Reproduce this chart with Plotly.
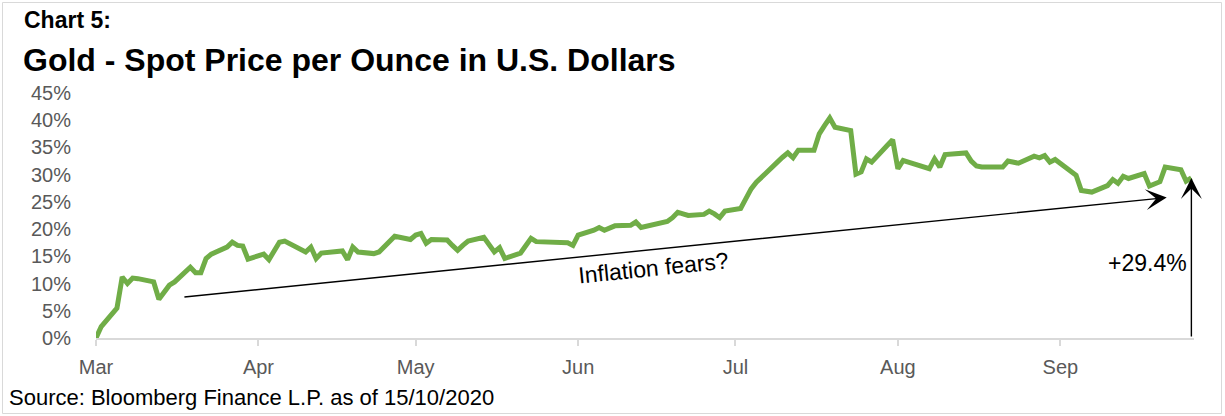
import pandas as pd
import plotly.graph_objects as go

# ---- data: gold spot price change since 19 Mar 2020 (%), business days ----
mar_vals = [0.0, 2.1, 5.5, 11.2, 10.0, 11.0, 10.9, 10.3, 7.1]
apr_vals = [8.4, 9.7, 10.3, 13.0, 12.0, 12.0, 14.6, 15.4, 16.7, 17.6, 17.0,
            16.9, 14.5, 15.4, 14.4, 16.0, 17.6, 17.8, 16.3, 15.8, 16.7, 14.6]
may_vals = [15.6, 15.9, 16.0, 14.4, 16.7, 15.8, 15.5, 15.8, 16.7, 17.8, 18.7,
            18.1, 18.9, 19.2, 17.4, 18.1, 18.0, 17.0, 16.1, 17.0, 17.8]
jun_vals = [18.5, 17.3, 15.8, 16.6, 14.6, 15.6, 16.8, 18.3, 17.7, 17.7, 17.5,
            17.5, 17.5, 17.0, 18.9, 19.8, 20.3, 19.8, 20.2, 20.6, 20.7, 21.3]
jul_vals = [20.3, 20.5, 20.7, 21.4, 22.1, 23.1, 22.8, 22.5, 22.7, 23.3, 22.8,
            22.1, 23.3, 23.8, 25.6, 27.4, 28.6, 29.6, 32.3, 33.2, 34.0, 33.1, 34.5]
aug_vals = [34.5, 37.5, 39.0, 40.4, 38.7, 38.1, 30.1, 30.5, 32.9, 32.3, 35.4,
            36.4, 31.1, 32.6, 32.3, 31.3, 31.1, 32.9, 31.4, 33.7, 33.9]
sep_vals = [34.0, 32.5, 31.6, 31.4, 31.4, 31.4, 32.5, 32.3, 32.1, 33.4, 33.1,
            33.5, 32.3, 32.8, 30.7, 29.9, 27.1, 27.0, 26.8, 28.0, 29.1, 28.4]
oct_vals = [29.7, 29.3, 30.2, 27.9, 28.3, 28.7, 31.4, 30.9, 28.8, 29.4]

dates = pd.bdate_range("2020-03-19", "2020-10-14")
values = mar_vals + apr_vals + may_vals + jun_vals + jul_vals + aug_vals + sep_vals + oct_vals

tick_dates = ["2020-03-19", "2020-04-19", "2020-05-19", "2020-06-19",
              "2020-07-19", "2020-08-19", "2020-09-19"]
tick_labels = ["Mar", "Apr", "May", "Jun", "Jul", "Aug", "Sep"]

# annotation anchors (data units)
trend_start = ("2020-04-04 14:00", 7.5)
trend_end = ("2020-10-09 07:00", 25.8)
final_label = "+29.4%"

FONT = "Liberation Sans, Arial, sans-serif"
W, H = 1225, 416
ML, MR, MT, MB = 96, 31, 93, 78
PW, PH = W - ML - MR, H - MT - MB


def px(x):
    return (x - ML) / PW


def py(y):
    return (H - MB - y) / PH


fig = go.Figure()
fig.add_trace(go.Scatter(x=dates, y=values, mode="lines",
                         line=dict(color="#70AD47", width=5),
                         hoverinfo="skip", showlegend=False))

fig.update_layout(
    width=W, height=H,
    margin=dict(l=ML, r=MR, t=MT, b=MB),
    paper_bgcolor="white", plot_bgcolor="white",
    font=dict(family=FONT, color="#595959"),
    showlegend=False,
)
fig.update_xaxes(
    type="date", range=["2020-03-19", "2020-10-14 12:00"],
    tickvals=tick_dates, ticktext=tick_labels,
    showline=True, linecolor="#D9D9D9", linewidth=2,
    ticks="outside", ticklen=6, tickwidth=2, tickcolor="#D9D9D9",
    ticklabelstandoff=4,
    tickfont=dict(size=20, color="#595959", family=FONT),
    showgrid=False, zeroline=False,
)
fig.update_yaxes(
    range=[0, 45], dtick=5, tick0=0, ticksuffix="%",
    showline=False, showgrid=False, zeroline=False,
    ticks="outside", ticklen=20, tickcolor="rgba(0,0,0,0)",
    tickfont=dict(size=20, color="#595959", family=FONT),
)

annotations = [
    dict(text="<b>Chart 5:</b>", xref="paper", yref="paper", x=px(22), y=py(20),
         xanchor="left", yanchor="middle", showarrow=False,
         font=dict(size=23, color="black", family=FONT)),
    dict(text="<b>Gold - Spot Price per Ounce in U.S. Dollars</b>", xref="paper", yref="paper",
         x=px(21), y=py(60), xanchor="left", yanchor="middle", showarrow=False,
         font=dict(size=32, color="black", family=FONT)),
    dict(text="Source: Bloomberg Finance L.P. as of 15/10/2020", xref="paper", yref="paper",
         x=px(7), y=py(397), xanchor="left", yanchor="middle", showarrow=False,
         font=dict(size=22, color="black", family=FONT)),
    dict(text="Inflation fears?", xref="paper", yref="paper", x=px(653), y=py(268),
         xanchor="center", yanchor="middle", showarrow=False, textangle=-5.8,
         font=dict(size=23, color="black", family=FONT)),
    dict(text=final_label, xref="paper", yref="paper", x=px(1189), y=py(263),
         xanchor="right", yanchor="middle", showarrow=False,
         font=dict(size=23, color="black", family=FONT)),
    dict(text="", x=trend_end[0], y=trend_end[1], xref="x", yref="y",
         ax=trend_start[0], ay=trend_start[1], axref="x", ayref="y",
         showarrow=True, arrowhead=3, arrowsize=2.5, arrowwidth=1.4, arrowcolor="black"),
    dict(text="", x=dates[-1], y=values[-1], xref="x", yref="y",
         ax=dates[-1], ay=0, axref="x", ayref="y",
         showarrow=True, arrowhead=3, arrowsize=2.5, arrowwidth=1.4, arrowcolor="black"),
]
fig.update_layout(annotations=annotations)

fig.add_shape(type="rect", xref="paper", yref="paper",
              x0=px(2.5), x1=px(1221.5), y0=py(413.5), y1=py(2.5),
              line=dict(color="#D9D9D9", width=1), layer="below")

fig.write_html("out.html")
